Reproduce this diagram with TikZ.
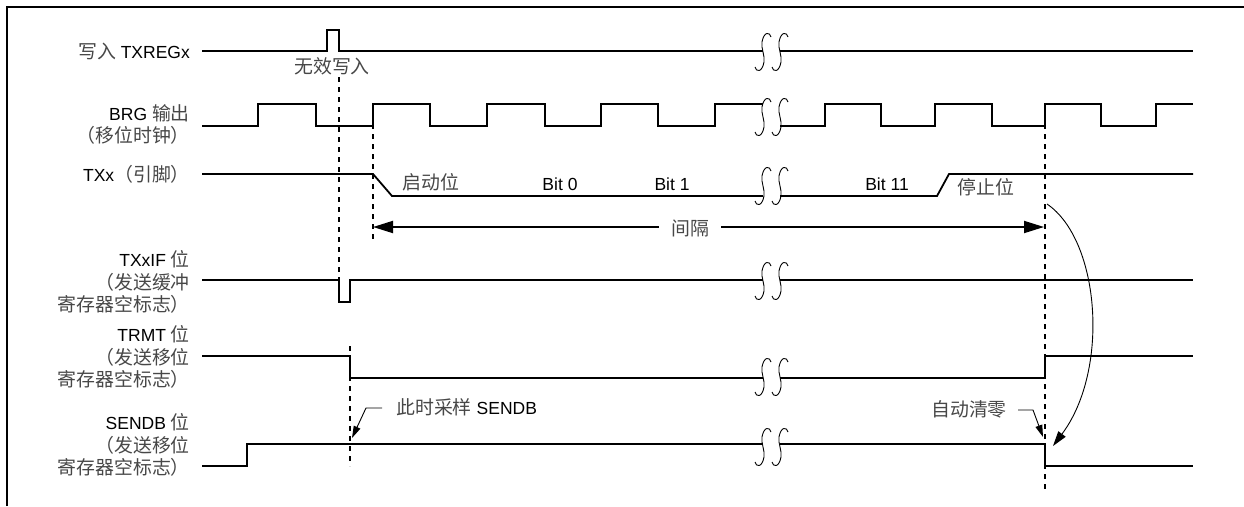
\documentclass[tikz,border=0pt]{standalone}
\usepackage{fontspec}
\setmainfont{Liberation Sans}
\newfontfamily\cjk[Scale=1.08]{Noto Sans CJK SC}
\usetikzlibrary{arrows.meta}
\newcommand{\zh}[1]{{\cjk\color{black!72}#1}}
\tikzset{
  sig/.style={line width=1.8pt, line join=miter},
  vdash/.style={line width=1.9pt, dash pattern=on 5pt off 5pt},
  thinline/.style={line width=0.9pt},
  lbl/.style={font=\fontsize{17.5}{22.5}\selectfont, inner sep=0pt, align=right, anchor=east},
  txt/.style={font=\fontsize{17.5}{22}\selectfont, inner sep=0pt},
  brkS/.pic={\draw[line width=0.9pt] (8,-15) .. controls (7,-20) and (1,-21) .. (-1,-10) .. controls (-2,-3) and (2,3) .. (1,10) .. controls (-1,21) and (-7,20) .. (-8,15);},
  brk/.pic={\pic at (-8.5,0) {brkS}; \pic at (8.5,0) {brkS};},
  bigtip/.style={-{Triangle[length=20pt,width=12pt]}},
  smalltip/.style={-{Triangle[length=12pt,width=7pt]}}
}
\begin{document}
\begin{tikzpicture}[x=1pt,y=-1pt]
\useasboundingbox (0,0) rectangle (1244,506);
% frame
\draw[line width=2pt] (7,506) -- (7,7) -- (1244,7);

% labels
\node[lbl] (l1) at (190,51) {\zh{写入} TXREGx};
\node[lbl] (l2) at (190,124.5) {BRG \zh{输出}\\\zh{（移位时钟）}};
\node[lbl] (l3) at (190,174) {TXx\zh{（引脚）}};
\node[lbl] (l4) at (190,282) {TXxIF \zh{位}\\\zh{（发送缓冲}\\\zh{寄存器空标志）}};
\node[lbl] (l5) at (190,357) {TRMT \zh{位}\\\zh{（发送移位}\\\zh{寄存器空标志）}};
\node[lbl] (l6) at (190,445) {SENDB \zh{位}\\\zh{（发送移位}\\\zh{寄存器空标志）}};

% dashed markers
\draw[vdash] (339,77) -- (339,279);
\draw[vdash] (373,104) -- (373,240);
\draw[vdash] (350,346) -- (350,466);
\draw[vdash] (1045,104) -- (1045,490);

% row 1: write TXREGx
\draw[sig] (202,51) -- (327,51) -- (327,30) -- (339,30) -- (339,51) -- (763,51);
\draw[sig] (780,51) -- (1193,51);
\pic at (771.5,52) {brk};
\node[txt] (inv) at (332,66) {\zh{无效写入}};

% row 2: BRG
\draw[sig] (202,126) -- (258,126) -- (258,104) -- (316,104) -- (316,126) -- (373,126) -- (373,104) -- (430,104) -- (430,126) -- (487,126) -- (487,104) -- (545,104) -- (545,126) -- (601,126) -- (601,104) -- (658,104) -- (658,126) -- (715,126) -- (715,104) -- (763,104);
\draw[sig] (780,126) -- (825,126) -- (825,104) -- (881,104) -- (881,126) -- (935,126) -- (935,104) -- (992,104) -- (992,126) -- (1045,126) -- (1045,104) -- (1101,104) -- (1101,126) -- (1156,126) -- (1156,104) -- (1193,104);
\pic at (771.5,117) {brk};

% row 3: TXx
\draw[sig] (202,174) -- (373,174) -- (392,196) -- (763,196);
\draw[sig] (780,196) -- (937,196) -- (949,174) -- (1193,174);
\pic at (771.5,186) {brk};
\node[txt] (sb) at (431,182) {\zh{启动位}};
\node[txt] (b0) at (560,184) {Bit 0};
\node[txt] (b1) at (672,184) {Bit 1};
\node[txt] (b11) at (887,184) {Bit 11};
\node[txt] (pb) at (986,187) {\zh{停止位}};

% interval
\node[txt] (gap) at (690,228) {\zh{间隔}};
\coordinate (gL) at (373,227);
\coordinate (gR) at (1044,227);
\draw[line width=1.8pt, bigtip] (gap.west) ++(-12,-1) -- (gL);
\draw[line width=1.8pt, bigtip] (gap.east) ++(12,-1) -- (gR);

% row 4: TXxIF
\draw[sig] (202,280) -- (339,280) -- (339,302) -- (350,302) -- (350,280) -- (763,280);
\draw[sig] (780,280) -- (1193,280);
\pic at (771.5,281) {brk};

% row 5: TRMT
\draw[sig] (202,356) -- (350,356) -- (350,378) -- (763,378);
\draw[sig] (780,378) -- (1045,378) -- (1045,356) -- (1193,356);
\pic at (771.5,377) {brk};

% row 6: SENDB
\draw[sig] (202,466) -- (247,466) -- (247,444) -- (763,444);
\draw[sig] (780,444) -- (1045,444) -- (1045,466) -- (1193,466);
\pic at (771.5,447) {brk};

% annotations
\node[txt, anchor=west] (samp) at (396,407) {\zh{此时采样} SENDB};
\coordinate (sampTip) at (352,438);
\draw[thinline, smalltip] (samp.west) ++(-14,1) -- ++(-16,0) -- (sampTip);

\node[txt, anchor=east] (clr) at (1007,409) {\zh{自动清零}};
\coordinate (clrTip) at (1043,437);
\draw[thinline, smalltip] (clr.east) ++(11,1) -- ++(15,0) -- (clrTip);

\coordinate (cs) at (1047,204);
\coordinate (ce) at (1053,446);
\draw[thinline, -{Triangle[length=15pt,width=9pt]}] (cs) .. controls (1100,240) and (1110,370) .. (ce);
\end{tikzpicture}
\end{document}
